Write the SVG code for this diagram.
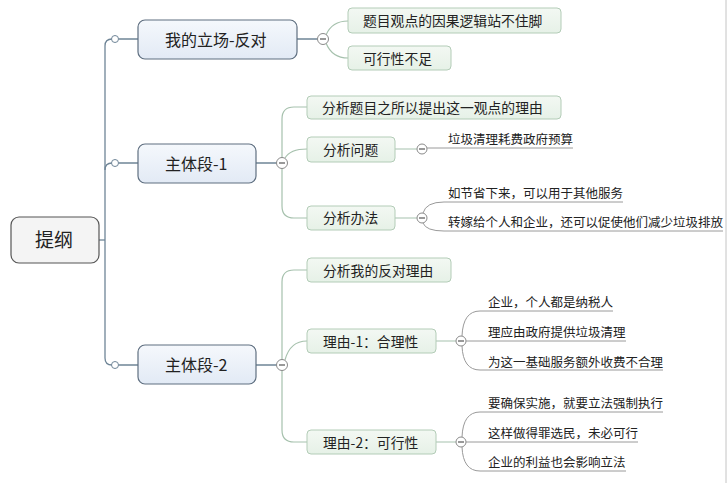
<svg xmlns="http://www.w3.org/2000/svg" width="728" height="483" viewBox="0 0 728 483">
<defs>
<linearGradient id="g1" x1="0" y1="0" x2="0" y2="1"><stop offset="0" stop-color="#f5f8fc"/><stop offset="1" stop-color="#e2eaf5"/></linearGradient>
<linearGradient id="g2" x1="0" y1="0" x2="0" y2="1"><stop offset="0" stop-color="#f3f8f3"/><stop offset="1" stop-color="#e6f1e7"/></linearGradient>
<style>
text{font-family:"Noto Sans CJK SC","Noto Sans",sans-serif;fill:#222}
.root{fill:#f4f4f4;stroke:#555;stroke-width:1.2}
.l1{fill:url(#g1);stroke:#5f6f80;stroke-width:1.2}
.l2{fill:url(#g2);stroke:#b3ccb7;stroke-width:1}
.t0{font-size:19px}
.t1{font-size:16px}
.t2{font-size:13.8px}
.t3{font-size:12.5px}
.trunk{fill:none;stroke:#6f8597;stroke-width:1.3}
.c2{fill:none;stroke:#a6c1ad;stroke-width:1.2}
.c3{fill:none;stroke:#9a9a9a;stroke-width:1}
.dot{fill:#fff;stroke:#6f8597;stroke-width:1}
.col{fill:#fff;stroke:#8a8a8a;stroke-width:1}
.minus{stroke:#555;stroke-width:1.2}
</style>
</defs>
<rect width="728" height="483" fill="#fff"/>
<line x1="726" y1="0" x2="726" y2="483" stroke="#c4c4c4" stroke-width="1"/>
<g id="connectors">
<path class="trunk" d="M99,240 H105"/>
<path class="trunk" d="M112,39 Q105,39 105,46 V358 Q105,365 112,365"/>
<path class="trunk" d="M105,170 Q105,163 112,163"/>
<path class="trunk" d="M118.5,39 H138 M118.5,163 H138 M118.5,365 H138"/>
<path class="trunk" d="M297,39 H318 M256,163 H277 M256,365 H277"/>
<path class="c2" d="M326,35 Q332,21 348,21 M326,43 Q332,58 348,58"/>
<path class="c2" d="M307,107 H294 Q282,107 282,119 V206 Q282,218 294,218 H307 M285,158 Q290,149 307,149"/>
<path class="c2" d="M307,270 H294 Q282,270 282,282 V430 Q282,442 294,442 H307 M285,360 Q290,341 307,341"/>
<path class="c2" d="M395,149 H417 M395,218 H417 M451,341 H456 M436,341 H456 M436,442 H456"/>
<path class="c3" d="M427,148 H573"/>
<path class="c3" d="M423,213 Q426,202 444,202 H623 M423,223 Q426,231 444,231 H723"/>
<path class="c3" d="M462,336 Q463,311 480,311 H613 M466,341 H626 M462,346 Q463,370 480,370 H663"/>
<path class="c3" d="M462,437 Q463,412 480,412 H663 M466,442 H638 M462,447 Q463,471 480,471 H626"/>
</g>
<g id="root"><rect class="root" x="11" y="217" width="88" height="46" rx="8"/><text class="t0" x="35" y="247">提纲</text></g>
<g id="n1">
<circle class="dot" cx="115" cy="39" r="3.5"/>
<rect class="l1" x="138" y="20" width="159" height="39" rx="7"/><text class="t1" x="165" y="45.5">我的立场-反对</text>
<circle class="col" cx="323" cy="39" r="5.5"/><line class="minus" x1="320" y1="39" x2="326" y2="39"/>
</g>
<g id="n2">
<circle class="dot" cx="115" cy="163" r="3.5"/>
<rect class="l1" x="138" y="144" width="118" height="39" rx="7"/><text class="t1" x="165" y="170">主体段-1</text>
<circle class="col" cx="282" cy="163" r="5.5"/><line class="minus" x1="279" y1="163" x2="285" y2="163"/>
</g>
<g id="n3">
<circle class="dot" cx="115" cy="365" r="3.5"/>
<rect class="l1" x="138" y="345" width="118" height="39" rx="7"/><text class="t1" x="165" y="371">主体段-2</text>
<circle class="col" cx="282" cy="365" r="5.5"/><line class="minus" x1="279" y1="365" x2="285" y2="365"/>
</g>
<g id="a1"><rect class="l2" x="348" y="8" width="213" height="25" rx="4"/><text class="t2" x="363" y="26">题目观点的因果逻辑站不住脚</text></g>
<g id="a2"><rect class="l2" x="348" y="46" width="103" height="24" rx="4"/><text class="t2" x="363" y="63.5">可行性不足</text></g>
<g id="b1"><rect class="l2" x="307" y="96" width="254" height="23" rx="4"/><text class="t2" x="322" y="113">分析题目之所以提出这一观点的理由</text></g>
<g id="b2"><rect class="l2" x="307" y="137" width="88" height="25" rx="4"/><text class="t2" x="323" y="155">分析问题</text>
<circle class="col" cx="422" cy="149" r="5"/><line class="minus" x1="419" y1="149" x2="425" y2="149"/></g>
<g id="b3"><rect class="l2" x="307" y="206" width="88" height="24" rx="4"/><text class="t2" x="323" y="223">分析办法</text>
<circle class="col" cx="422" cy="218" r="5"/><line class="minus" x1="419" y1="218" x2="425" y2="218"/></g>
<g id="b2a"><text class="t3" x="448" y="144">垃圾清理耗费政府预算</text></g>
<g id="b3a"><text class="t3" x="448" y="198">如节省下来，可以用于其他服务</text></g>
<g id="b3b"><text class="t3" x="448" y="227">转嫁给个人和企业，还可以促使他们减少垃圾排放</text></g>
<g id="c1"><rect class="l2" x="307" y="258" width="144" height="24" rx="4"/><text class="t2" x="323" y="276">分析我的反对理由</text></g>
<g id="c2"><rect class="l2" x="307" y="329" width="129" height="24" rx="4"/><text class="t2" x="323" y="346.5">理由-1：合理性</text>
<circle class="col" cx="461" cy="341" r="5"/><line class="minus" x1="458" y1="341" x2="464" y2="341"/></g>
<g id="c3"><rect class="l2" x="307" y="430" width="129" height="24" rx="4"/><text class="t2" x="323" y="447.5">理由-2：可行性</text>
<circle class="col" cx="461" cy="442" r="5"/><line class="minus" x1="458" y1="442" x2="464" y2="442"/></g>
<g id="c2a"><text class="t3" x="488" y="307">企业，个人都是纳税人</text></g>
<g id="c2b"><text class="t3" x="488" y="337">理应由政府提供垃圾清理</text></g>
<g id="c2c"><text class="t3" x="488" y="366.5">为这一基础服务额外收费不合理</text></g>
<g id="c3a"><text class="t3" x="488" y="408">要确保实施，就要立法强制执行</text></g>
<g id="c3b"><text class="t3" x="488" y="438">这样做得罪选民，未必可行</text></g>
<g id="c3c"><text class="t3" x="488" y="467">企业的利益也会影响立法</text></g>
</svg>
